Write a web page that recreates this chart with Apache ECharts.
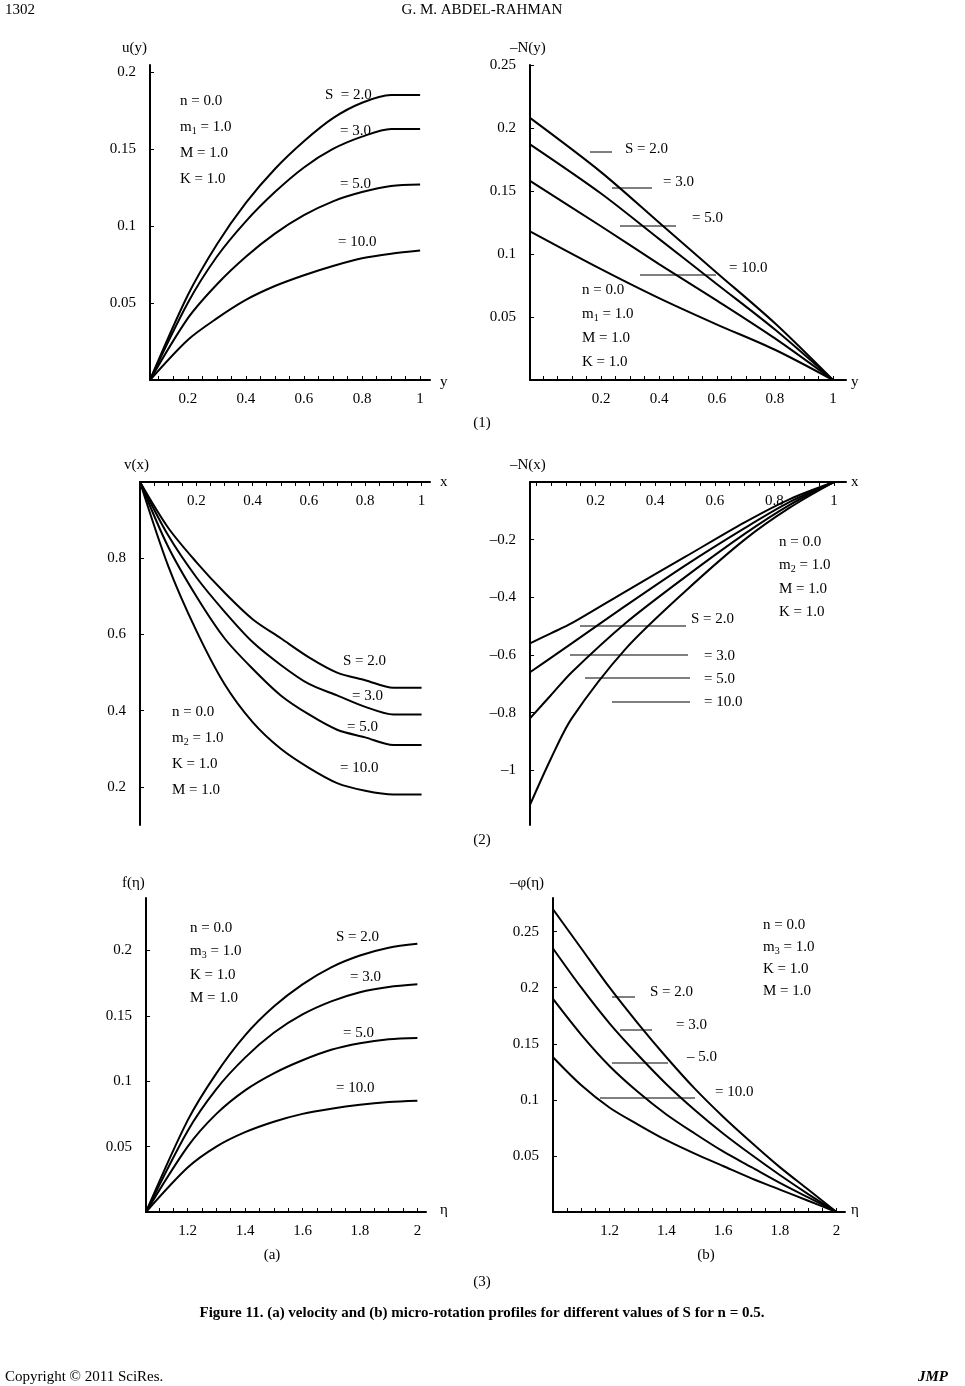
<!DOCTYPE html>
<html><head><meta charset="utf-8">
<script src="https://cdn.jsdelivr.net/npm/echarts@6/dist/echarts.min.js"></script>
<style>html,body{margin:0;padding:0;background:#fff}#main{width:965px;height:1386px}</style>
</head><body><div id="main"></div>
<script>
// 图例: S 值
var sLabels = ['S = 2.0', '= 3.0', '= 5.0', '= 10.0'];

// (1) u(y)
var x1a = [0.07,0.2,0.3,0.4,0.5,0.6,0.7,0.8,0.9,1.0];
var u1 = [
  [0,0.055,0.088,0.115,0.137,0.155,0.17,0.18,0.185,0.185],
  [0,0.05,0.08,0.103,0.122,0.138,0.15,0.158,0.163,0.163],
  [0,0.04,0.062,0.08,0.095,0.107,0.116,0.122,0.126,0.127],
  [0,0.026,0.04,0.052,0.061,0.068,0.074,0.079,0.082,0.084]
];
// (1) -N(y)
var x1b = [-0.045,0.2,0.4,0.6,0.8,1.0];
var n1 = [
  [0.208,0.165,0.125,0.085,0.045,0],
  [0.187,0.148,0.112,0.076,0.04,0],
  [0.158,0.122,0.092,0.063,0.033,0],
  [0.118,0.088,0.065,0.044,0.024,0]
];
// (2) v(x)
var x2a = [0,0.1,0.2,0.3,0.4,0.5,0.6,0.7,0.8,0.9,1.0];
var v2 = [
  [1,0.88,0.79,0.71,0.64,0.59,0.54,0.5,0.48,0.46,0.46],
  [1,0.86,0.75,0.66,0.58,0.52,0.47,0.44,0.41,0.39,0.39],
  [1,0.83,0.70,0.59,0.51,0.44,0.39,0.35,0.33,0.31,0.31],
  [1,0.78,0.61,0.47,0.37,0.3,0.25,0.21,0.19,0.18,0.18]
];
// (2) -N(x)
var x2b = [-0.02,0.05,0.12,0.3,0.5,0.7,0.85,1.0];
var n2 = [
  [-0.56,-0.525,-0.49,-0.38,-0.26,-0.14,-0.06,0],
  [-0.66,-0.61,-0.56,-0.43,-0.29,-0.16,-0.07,0],
  [-0.82,-0.74,-0.66,-0.49,-0.33,-0.18,-0.08,0],
  [-1.12,-0.96,-0.82,-0.58,-0.38,-0.2,-0.09,0]
];
// (3a) f(eta)
var x3a = [1.055,1.2,1.3,1.4,1.5,1.6,1.7,1.8,1.9,2.0];
var f3 = [
  [0,0.07,0.106,0.135,0.157,0.174,0.187,0.196,0.202,0.205],
  [0,0.062,0.094,0.118,0.137,0.151,0.161,0.168,0.172,0.174],
  [0,0.05,0.075,0.093,0.106,0.116,0.124,0.129,0.132,0.133],
  [0,0.034,0.05,0.061,0.069,0.075,0.079,0.082,0.084,0.085]
];
// (3b) -phi(eta)
var x3b = [1.0,1.1,1.2,1.3,1.4,1.5,1.6,1.7,1.8,1.9,2.0];
var p3 = [
  [0.27,0.235,0.2,0.168,0.138,0.11,0.085,0.062,0.04,0.02,0],
  [0.235,0.2,0.168,0.14,0.114,0.091,0.07,0.051,0.033,0.016,0],
  [0.19,0.158,0.13,0.107,0.087,0.07,0.054,0.04,0.026,0.013,0],
  [0.138,0.113,0.093,0.078,0.064,0.052,0.041,0.03,0.02,0.01,0]
];

// 刻度
var tickX01 = [0.2,0.4,0.6,0.8,1];
var tickEta = [1.2,1.4,1.6,1.8,2];
var tickU = [0.05,0.1,0.15,0.2];
var tickN1 = [0.05,0.1,0.15,0.2,0.25];
var tickV = [0.2,0.4,0.6,0.8];
var tickN2 = [-1,-0.8,-0.6,-0.4,-0.2];
var tickF = [0.05,0.1,0.15,0.2];
var tickP = [0.05,0.1,0.15,0.2,0.25];

var FONT = 'Liberation Serif';
var grids = [], xAxes = [], yAxes = [], series = [], graphic = [];

function minor(a, b, step){ var r=[]; for(var v=a; v<=b+1e-9; v+=step) r.push(+v.toFixed(4)); return r; }

function panel(box, xr, yr, xt, yt, xs, ys, top){
  var i = grids.length;
  grids.push({left:box[0], top:box[1], width:box[2], height:box[3]});
  xAxes.push({type:'value', gridIndex:i, min:xr[0], max:xr[1], position: top?'top':'bottom',
    axisLine:{onZero:false, lineStyle:{color:'#000', width:2}}, splitLine:{show:false},
    axisTick:{inside:true, length:4, customValues:minor(xr[0]<0?0:Math.ceil(xr[0]*20)/20, xr[1], 0.05), lineStyle:{color:'#000'}},
    axisLabel:{customValues:xt, inside:!!top, margin:12, color:'#000', fontFamily:FONT, fontSize:15}});
  yAxes.push({type:'value', gridIndex:i, min:yr[0], max:yr[1],
    axisLine:{onZero:false, lineStyle:{color:'#000', width:2}}, splitLine:{show:false},
    axisTick:{inside:true, length:4, customValues:yt, lineStyle:{color:'#000'}},
    axisLabel:{customValues:yt, margin:14, color:'#000', fontFamily:FONT, fontSize:15,
      formatter:function(v){ return String(+v.toFixed(2)).replace('-', '\u2013'); }}});
  ys.forEach(function(s){
    series.push({type:'line', xAxisIndex:i, yAxisIndex:i, showSymbol:false, smooth:0.3,
      lineStyle:{color:'#000', width:2}, data:xs.map(function(x,k){ return [x, s[k]]; })});
  });
}

function txt(x, y, t, o){ graphic.push({type:'text', x:x, y:y, style:Object.assign({text:t, fill:'#000', font:'15px "'+FONT+'"', textVerticalAlign:'middle'}, o||{})}); }
function line(x1, x2, y){ graphic.push({type:'line', shape:{x1:x1,y1:y,x2:x2,y2:y}, style:{stroke:'#000', lineWidth:1}}); }
function block(x, y0, dy, m, order){
  order.forEach(function(k, j){
    var r = k==='n' ? 'n = 0.0' : (k==='m' ? 'm{s|'+m+'} = 1.0' : k+' = 1.0');
    graphic.push({type:'text', x:x, y:y0+j*dy, style:{text:r, fill:'#000', font:'15px "'+FONT+'"', textVerticalAlign:'middle',
      rich:{s:{fontSize:10, fontFamily:FONT, padding:[8,0,0,0]}}}});
  });
}

panel([150,65,280,315],[0.07,1.034],[0,0.2045],tickX01,tickU,x1a,u1,false);
panel([530,65,316,315],[-0.045,1.045],[0,0.25],tickX01,tickN1,x1b,n1,false);
panel([140,482,290,343],[0,1.03],[0.1,1.0],tickX01,tickV,x2a,v2,true);
panel([530,482,316,343],[-0.02,1.04],[-1.19,0],tickX01,tickN2,x2b,n2,true);
panel([146,898,280,314],[1.055,2.03],[0,0.24],tickEta,tickF,x3a,f3,false);
panel([553,898,292,314],[1.0,2.03],[0,0.28],tickEta,tickP,x3b,p3,false);

// 页眉
txt(5,10,'1302');
txt(482,10,'G. M. ABDEL-RAHMAN',{textAlign:'center'});
// 轴名
txt(122,48,'u(y)'); txt(440,382,'y'); txt(510,48,'\u2013N(y)'); txt(851,382,'y');
txt(124,465,'v(x)'); txt(440,482,'x'); txt(510,465,'\u2013N(x)'); txt(851,482,'x');
txt(122,883,'f(\u03b7)'); txt(440,1210,'\u03b7'); txt(510,883,'\u2013\u03c6(\u03b7)'); txt(851,1210,'\u03b7');
// (1)
block(180,101,26,'1',['n','m','M','K']);
txt(325,95,'S  = 2.0'); txt(340,131,sLabels[1]); txt(340,184,sLabels[2]); txt(338,242,sLabels[3]);
block(582,290,24,'1',['n','m','M','K']);
line(590,612,152); txt(625,149,sLabels[0]);
line(612,652,188); txt(663,182,sLabels[1]);
line(620,676,226); txt(692,218,sLabels[2]);
line(640,716,275); txt(729,268,sLabels[3]);
txt(482,423,'(1)',{textAlign:'center'});
// (2)
block(172,712,26,'2',['n','m','K','M']);
txt(343,661,sLabels[0]); txt(352,696,sLabels[1]); txt(347,727,sLabels[2]); txt(340,768,sLabels[3]);
block(779,542,23.5,'2',['n','m','M','K']);
line(580,686,626); txt(691,619,sLabels[0]);
line(570,688,655); txt(704,656,sLabels[1]);
line(585,690,678); txt(704,679,sLabels[2]);
line(612,690,702); txt(704,702,sLabels[3]);
txt(482,840,'(2)',{textAlign:'center'});
// (3)
block(190,928,23.3,'3',['n','m','K','M']);
txt(336,937,sLabels[0]); txt(350,977,sLabels[1]); txt(343,1033,sLabels[2]); txt(336,1088,sLabels[3]);
block(763,925,22,'3',['n','m','K','M']);
line(612,635,997); txt(650,992,sLabels[0]);
line(620,652,1030); txt(676,1025,sLabels[1]);
line(612,668,1063); txt(687,1057,'\u2013 5.0');
line(600,695,1098); txt(715,1092,sLabels[3]);
txt(272,1255,'(a)',{textAlign:'center'}); txt(706,1255,'(b)',{textAlign:'center'});
txt(482,1282,'(3)',{textAlign:'center'});
txt(482,1313,'Figure 11. (a) velocity and (b) micro-rotation profiles for different values of S for n = 0.5.',{textAlign:'center', font:'bold 15px "'+FONT+'"'});
txt(5,1377,'Copyright \u00a9 2011 SciRes.'); txt(948,1377,'JMP',{textAlign:'right', font:'italic bold 15px "'+FONT+'"'});

var myChart = echarts.init(document.getElementById('main'));
myChart.setOption({animation:false, backgroundColor:'#fff', grid:grids, xAxis:xAxes, yAxis:yAxes, series:series, graphic:graphic});
</script></body></html>
